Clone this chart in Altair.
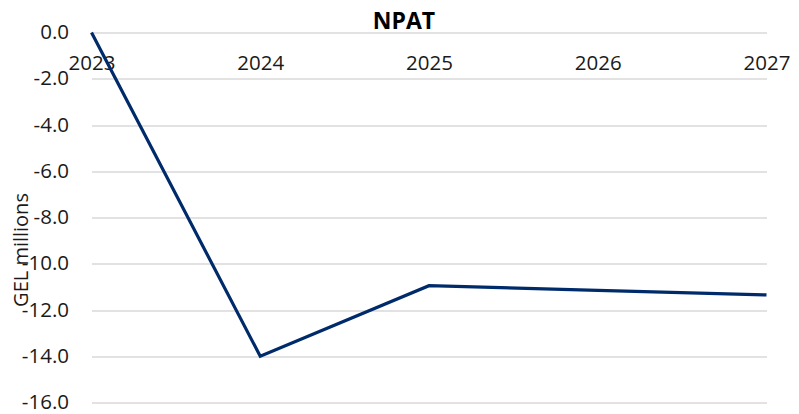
import altair as alt
import pandas as pd

years = ["2023", "2024", "2025", "2026", "2027"]
npat = [0.0, -14.0, -10.95, -11.15, -11.35]
y_ticks = [0, -2, -4, -6, -8, -10, -12, -14, -16]

df = pd.DataFrame({"year": years, "npat": npat})

FONT = "Open Sans"

chart = (
    alt.Chart(df)
    .mark_line(color="#002b6b", strokeWidth=3.2)
    .encode(
        x=alt.X(
            "year:N",
            sort=years,
            scale=alt.Scale(type="point", padding=0),
            axis=alt.Axis(
                orient="top",
                title=None,
                labelAngle=0,
                ticks=False,
                domain=False,
                grid=False,
                labelBaseline="middle",
                labelPadding=-31,
                labelFontSize=20.5,
                labelFont=FONT,
                labelColor="#1a1a1a",
            ),
        ),
        y=alt.Y(
            "npat:Q",
            scale=alt.Scale(domain=[-16, 0], nice=False, zero=False),
            axis=alt.Axis(
                title="GEL millions",
                values=y_ticks,
                labelExpr="replace(format(datum.value, '.1f'), '\u2212', '-')",
                ticks=False,
                domain=False,
                grid=True,
                gridColor="#d9d9d9",
                gridWidth=1.6,
                labelPadding=23,
                labelFontSize=20.5,
                labelFont=FONT,
                labelColor="#1a1a1a",
                titleFont=FONT,
                titleFontSize=20,
                titleFontWeight="normal",
                titleColor="#1a1a1a",
                titleAngle=270,
                titleAlign="center",
                titleBaseline="middle",
                titleX=-70,
                titleY=217,
            ),
        ),
    )
    .properties(
        width=675,
        height=370,
        title=alt.TitleParams(
            "NPAT",
            font=FONT,
            fontSize=23,
            fontWeight="bold",
            color="#000000",
            anchor="middle",
            baseline="alphabetic",
            offset=6,
            dx=-25,
            dy=35,
        ),
        autosize=alt.AutoSizeParams(type="none"),
        padding={"left": 83.5, "top": 24.5, "right": 24.5, "bottom": 12},
    )
    .configure_view(stroke=None)
)

chart.save("out.html", embed_options={"renderer": "svg", "actions": False})
